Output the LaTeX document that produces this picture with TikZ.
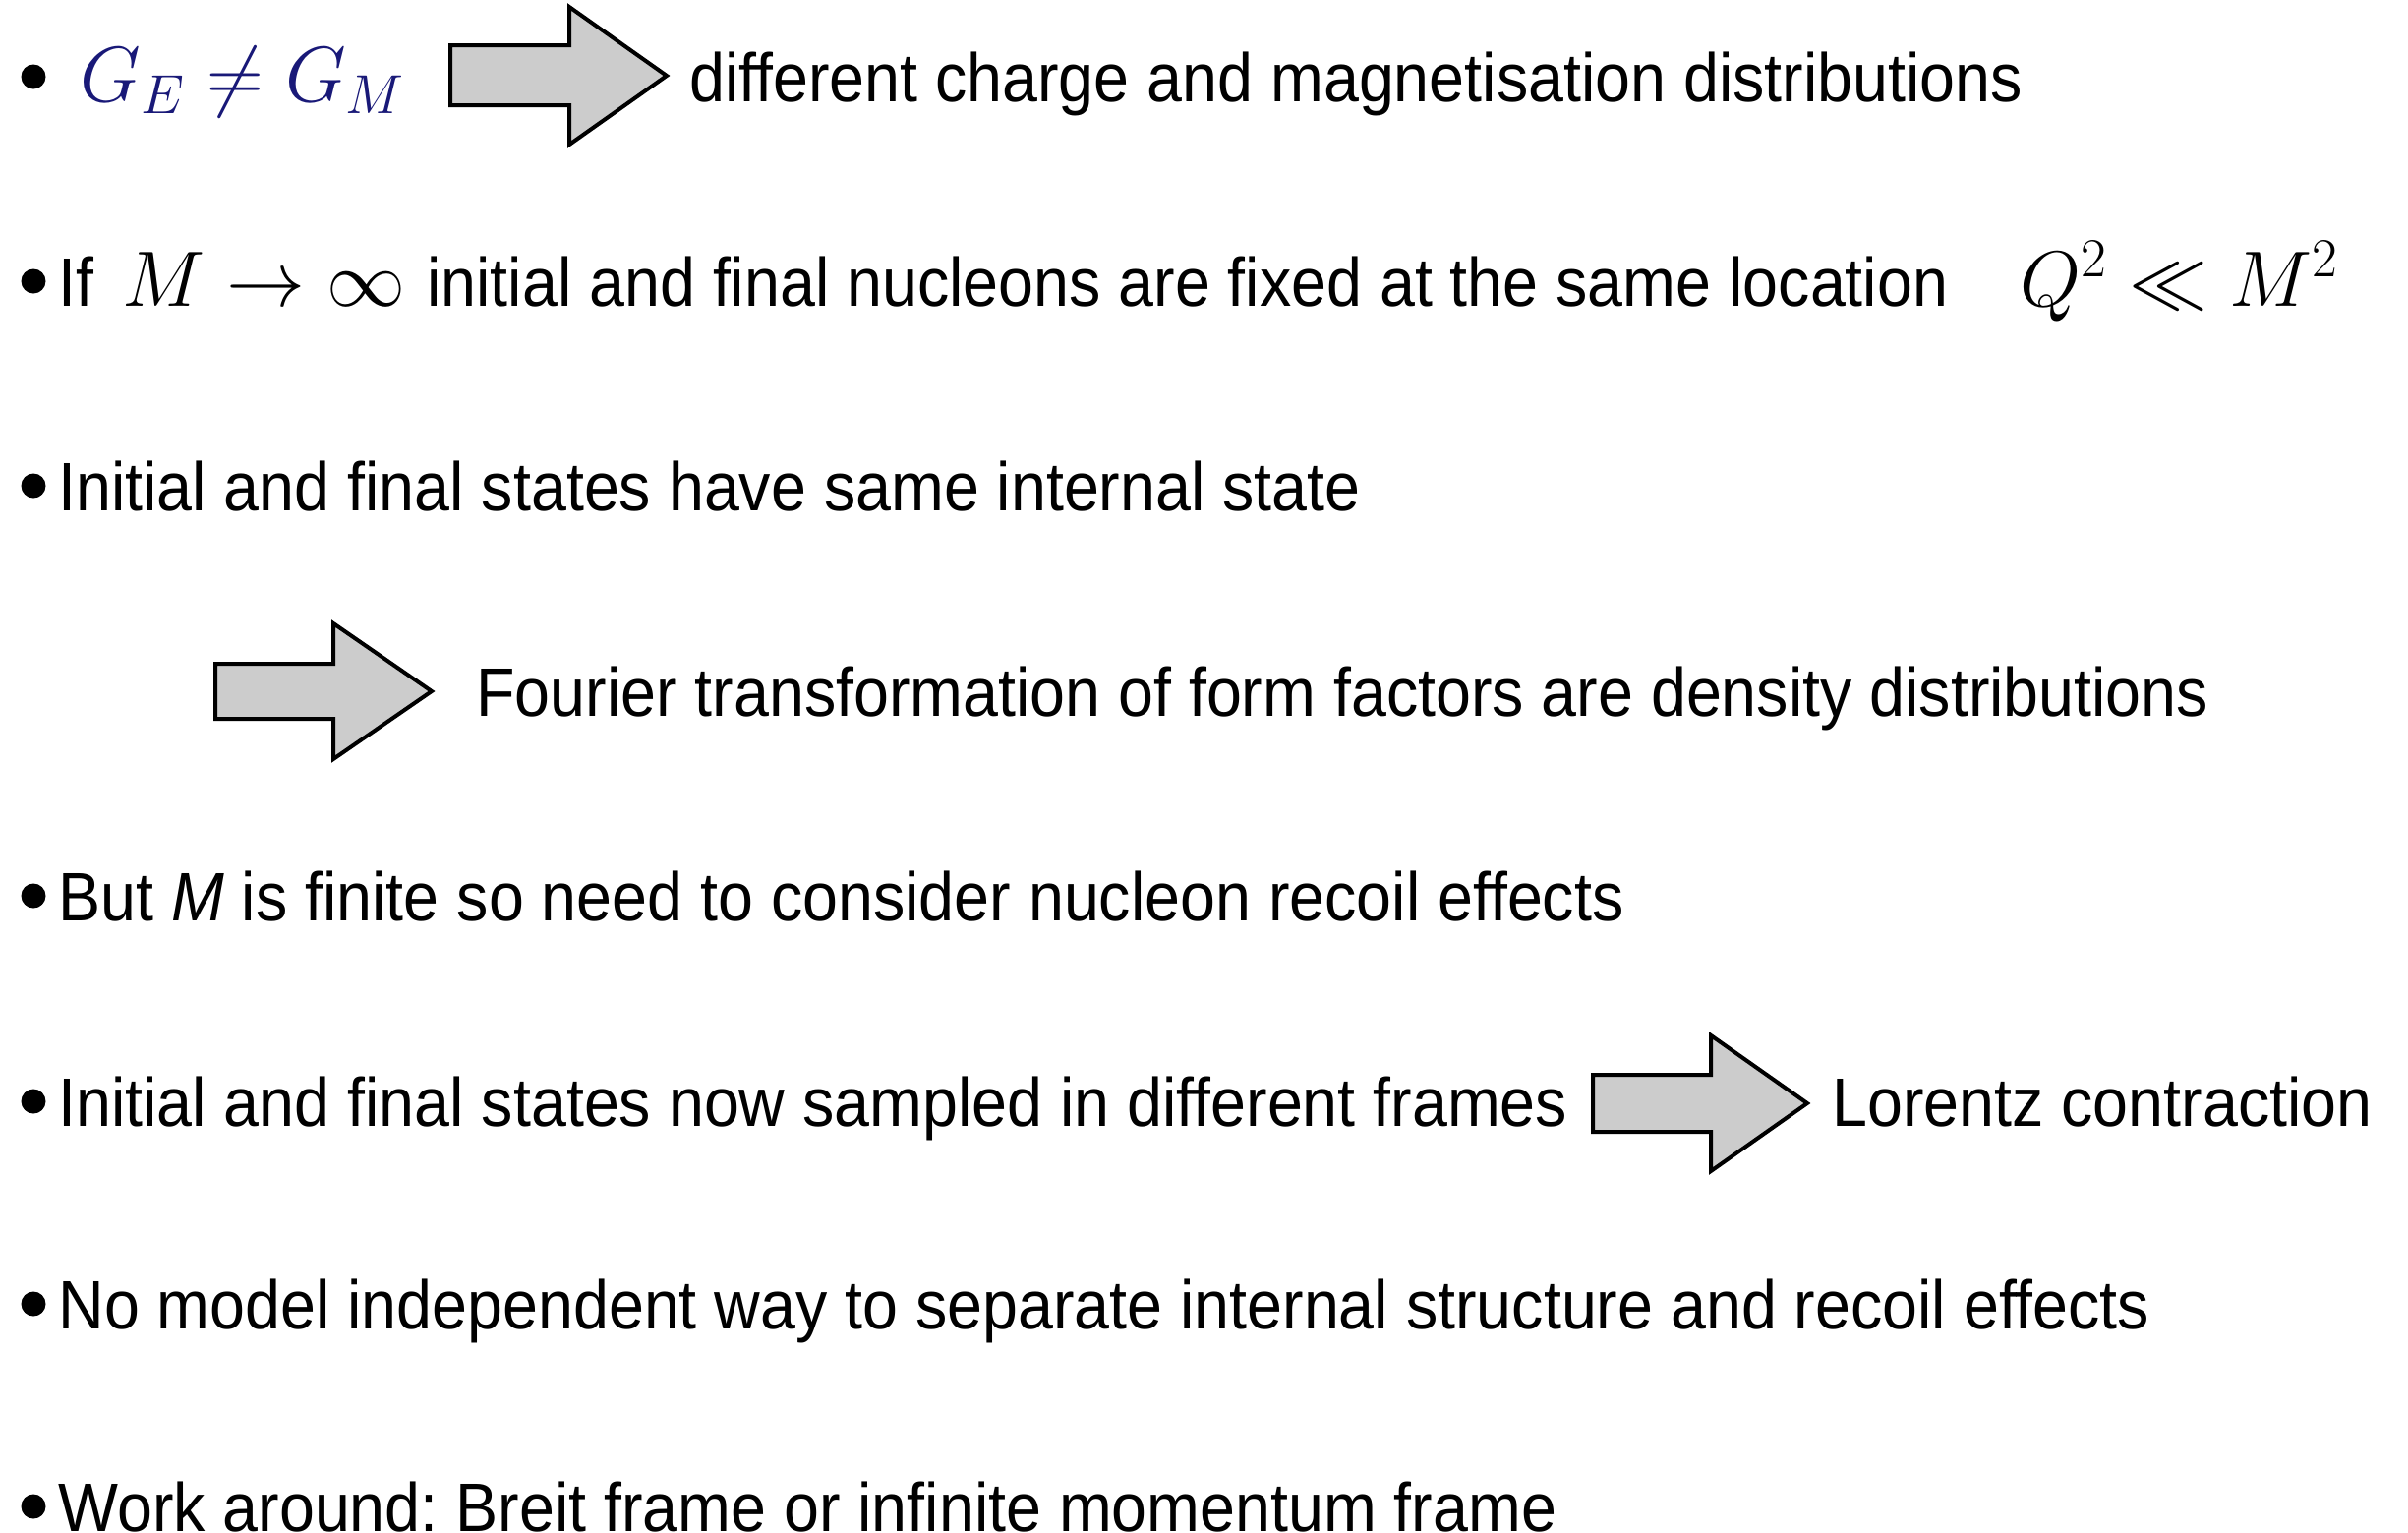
\documentclass[tikz,border=0pt]{standalone}
\usepackage{fix-cm}
\usepackage[no-math]{fontspec}
\setmainfont{Liberation Sans}[FakeStretch=0.925]
\definecolor{mathblue}{RGB}{25,25,120}
\frenchspacing
\begin{document}
\begin{tikzpicture}[x=0.5pt,y=-0.5pt,
  txt/.style={anchor=base west,inner sep=0pt,font=\fontsize{34.9}{40}\selectfont},
  mth/.style={anchor=base west,inner sep=0pt,font=\fontsize{40}{48}\selectfont},
  bul/.style={circle,fill=black,inner sep=0pt,minimum size=12.5pt},
  fatarrow/.style={draw=black,fill=black!20,line width=2pt,line join=miter}]
\useasboundingbox (0,0) rectangle (2449,1559);
\fill[white] (0,0) rectangle (2449,1559);
% bullets
\node[bul] (b1) at (34,78) {};
\node[bul] (b2) at (34,286) {};
\node[bul] (b3) at (34,494) {};
\node[bul] (b5) at (34,911) {};
\node[bul] (b6) at (34,1120) {};
\node[bul] (b7) at (34,1326) {};
\node[bul] (b8) at (34,1532) {};
% line 1
\node[mth,text=mathblue] (m1) at (81,103) {$G_E\neq G_M$};
\draw[fatarrow] (458,46) -- (579,46) -- (579,7) -- (678,77) -- (579,147) -- (579,107) -- (458,107) -- cycle;
\node[txt] (t1) at (701,103) {different charge and magnetisation distributions};
% line 2
\node[txt] (t2a) at (59,311) {If};
\node[mth] (m2) at (124,311) {$M\rightarrow\infty$};
\node[txt] (t2b) at (434,311) {initial and final nucleons are fixed at the same location};
\node[mth] (m3) at (2054,311) {$Q^2\ll M^2$};
% line 3
\node[txt] (t3) at (59,519) {Initial and final states have same internal state};
% line 4
\draw[fatarrow] (219,675) -- (339,675) -- (339,634) -- (439,703) -- (339,772) -- (339,731) -- (219,731) -- cycle;
\node[txt] (t4) at (484,728) {Fourier transformation of form factors are density distributions};
% line 5
\node[txt] (t5) at (59,936) {But \textit{M} is finite so need to consider nucleon recoil effects};
% line 6
\node[txt] (t6) at (59,1145) {Initial and final states now sampled in different frames};
\draw[fatarrow] (1620,1093) -- (1740,1093) -- (1740,1053) -- (1838,1122) -- (1740,1191) -- (1740,1151) -- (1620,1151) -- cycle;
\node[txt] (t6b) at (1863,1145) {Lorentz contraction};
% line 7
\node[txt] (t7) at (59,1351) {No model independent way to separate internal structure and recoil effects};
% line 8
\node[txt] (t8) at (59,1557) {Work around: Breit frame or infinite momentum frame};
\end{tikzpicture}
\end{document}
